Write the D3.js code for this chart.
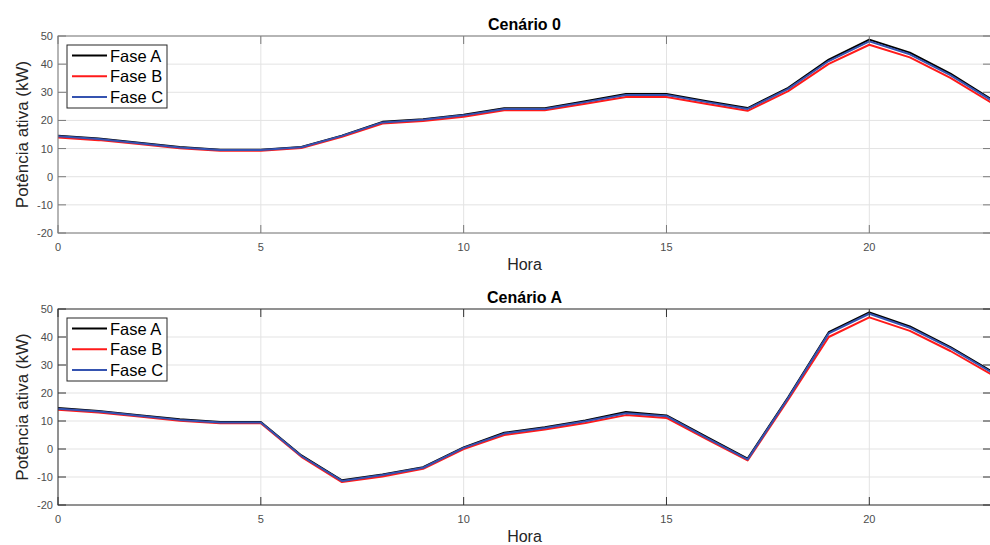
<!DOCTYPE html>
<html>
<head>
<meta charset="utf-8">
<script src="https://cdn.jsdelivr.net/npm/d3@7"></script>
<style>
  body { margin: 0; background: #fff; }
  svg { display: block; font-family: "Liberation Sans", Arial, sans-serif; }
</style>
</head>
<body>
<svg></svg>
<script>
var width = 990, height = 545;

// hourly values (kW)
var hours = d3.range(0, 24);
var faseNames = ["Fase A", "Fase B", "Fase C"];
var faseColors = ["#000000", "#ff1a1a", "#3553b0"];

var cen0A = [14.6,13.6,12.1,10.6,9.6,9.6,10.6,14.6,19.5,20.4,22.0,24.3,24.3,26.8,29.4,29.4,26.8,24.4,31.6,41.6,48.7,44.1,36.6,27.6];
var cen0B = [13.9,13.0,11.6,10.1,9.2,9.2,10.2,14.2,18.9,19.8,21.3,23.6,23.6,25.9,28.3,28.3,25.8,23.4,30.4,40.1,46.9,42.4,35.1,26.4];
var cen0C = [14.4,13.4,11.9,10.4,9.5,9.5,10.5,14.5,19.3,20.2,21.8,24.1,24.1,26.5,29.0,29.0,26.5,24.1,31.2,41.1,48.1,43.5,36.1,27.2];

var cenAA = [14.6,13.6,12.1,10.6,9.6,9.6,-2.3,-11.2,-9.1,-6.5,0.6,5.8,7.8,10.2,13.2,12.0,4.2,-3.4,18.5,41.7,48.8,43.8,36.4,27.9];
var cenAB = [14.0,13.0,11.6,10.1,9.2,9.2,-2.8,-11.8,-9.8,-7.1,0.0,5.0,7.0,9.3,12.1,11.1,3.4,-4.1,17.6,40.0,47.0,42.2,35.0,26.7];
var cenAC = [14.4,13.4,11.9,10.4,9.5,9.5,-2.5,-11.4,-9.3,-6.7,0.4,5.5,7.5,9.9,12.8,11.7,3.9,-3.7,18.2,41.3,48.3,43.3,36.0,27.5];

var xTicks = [0, 5, 10, 15, 20];
var yTicks = [-20, -10, 0, 10, 20, 30, 40, 50];

var svg = d3.select("svg").attr("width", width).attr("height", height);

var x = d3.scaleLinear().domain([0, 23]).range([58, 991]);

function drawPanel(opts) {
  var y = d3.scaleLinear().domain([-20, 50]).range([opts.bottom, opts.top]);
  var g = svg.append("g");
  var x0 = x.range()[0], x1 = x.range()[1];

  // grid
  g.selectAll(".gy").data(yTicks).enter().append("line")
    .attr("x1", x0).attr("x2", x1)
    .attr("y1", function(d) { return y(d); }).attr("y2", function(d) { return y(d); })
    .attr("stroke", "#e3e3e3").attr("stroke-width", 1);
  g.selectAll(".gx").data(xTicks).enter().append("line")
    .attr("y1", opts.top).attr("y2", opts.bottom)
    .attr("x1", function(d) { return x(d); }).attr("x2", function(d) { return x(d); })
    .attr("stroke", "#e3e3e3").attr("stroke-width", 1);

  // lines
  var line = d3.line()
    .x(function(d, i) { return x(hours[i]); })
    .y(function(d) { return y(d); });
  var clipId = "clip" + opts.id;
  svg.append("clipPath").attr("id", clipId).append("rect")
    .attr("x", x0).attr("y", opts.top).attr("width", x1 - x0).attr("height", opts.bottom - opts.top);
  opts.series.forEach(function(s, i) {
    g.append("path")
      .datum(s)
      .attr("clip-path", "url(#" + clipId + ")")
      .attr("fill", "none")
      .attr("stroke", faseColors[i])
      .attr("stroke-width", 2)
      .attr("stroke-linejoin", "round")
      .attr("d", line);
  });

  // box + inward ticks (matlab style)
  var axisCol = opts.axisColor;
  var tickLen = 8;
  g.append("rect")
    .attr("x", x0).attr("y", opts.top)
    .attr("width", x1 - x0).attr("height", opts.bottom - opts.top)
    .attr("fill", "none").attr("stroke", axisCol).attr("stroke-width", 1);
  xTicks.forEach(function(t) {
    g.append("line").attr("x1", x(t)).attr("x2", x(t))
      .attr("y1", opts.bottom).attr("y2", opts.bottom - tickLen).attr("stroke", axisCol);
    g.append("line").attr("x1", x(t)).attr("x2", x(t))
      .attr("y1", opts.top).attr("y2", opts.top + tickLen).attr("stroke", axisCol);
  });
  yTicks.forEach(function(t) {
    g.append("line").attr("x1", x0).attr("x2", x0 + tickLen)
      .attr("y1", y(t)).attr("y2", y(t)).attr("stroke", axisCol);
    g.append("line").attr("x1", x1).attr("x2", x1 - tickLen)
      .attr("y1", y(t)).attr("y2", y(t)).attr("stroke", axisCol);
  });

  // tick labels
  g.selectAll(".xl").data(xTicks).enter().append("text")
    .attr("x", function(d) { return x(d); })
    .attr("y", opts.bottom + 18)
    .attr("text-anchor", "middle")
    .attr("font-size", 11).attr("fill", "#4d4d4d")
    .text(function(d) { return d; });
  g.selectAll(".yl").data(yTicks).enter().append("text")
    .attr("x", x0 - 5)
    .attr("y", function(d) { return y(d) + 4; })
    .attr("text-anchor", "end")
    .attr("font-size", 11).attr("fill", "#4d4d4d")
    .text(function(d) { return d; });

  // title + labels
  g.append("text")
    .attr("x", (x0 + x1) / 2).attr("y", opts.top - 6)
    .attr("text-anchor", "middle")
    .attr("font-size", 16).attr("font-weight", "bold").attr("fill", "#000")
    .text(opts.title);
  g.append("text")
    .attr("x", (x0 + x1) / 2).attr("y", opts.bottom + 37)
    .attr("text-anchor", "middle")
    .attr("font-size", 16).attr("fill", "#262626")
    .text("Hora");
  g.append("text")
    .attr("transform", "translate(28," + ((opts.top + opts.bottom) / 2) + ") rotate(-90)")
    .attr("text-anchor", "middle")
    .attr("font-size", 17).attr("fill", "#262626")
    .text("Potência ativa (kW)");

  // legend
  var lg = g.append("g").attr("transform", "translate(67," + (opts.top + opts.legendOffset) + ")");
  lg.append("rect")
    .attr("width", 100).attr("height", 63)
    .attr("fill", "#fff").attr("stroke", "#262626").attr("stroke-width", 1);
  faseNames.forEach(function(n, i) {
    var yy = 10.5 + i * 20.7;
    lg.append("line")
      .attr("x1", 5).attr("x2", 40).attr("y1", yy).attr("y2", yy)
      .attr("stroke", faseColors[i]).attr("stroke-width", 2);
    lg.append("text")
      .attr("x", 43).attr("y", yy + 6)
      .attr("font-size", 16.5).attr("fill", "#000")
      .text(n);
  });
}

drawPanel({ id: 0, title: "Cenário 0", top: 36, bottom: 233, axisColor: "#7a7a7a",
  legendOffset: 9, series: [cen0A, cen0B, cen0C] });
drawPanel({ id: 1, title: "Cenário A", top: 309, bottom: 505, axisColor: "#333333",
  legendOffset: 9, series: [cenAA, cenAB, cenAC] });
</script>
</body>
</html>
